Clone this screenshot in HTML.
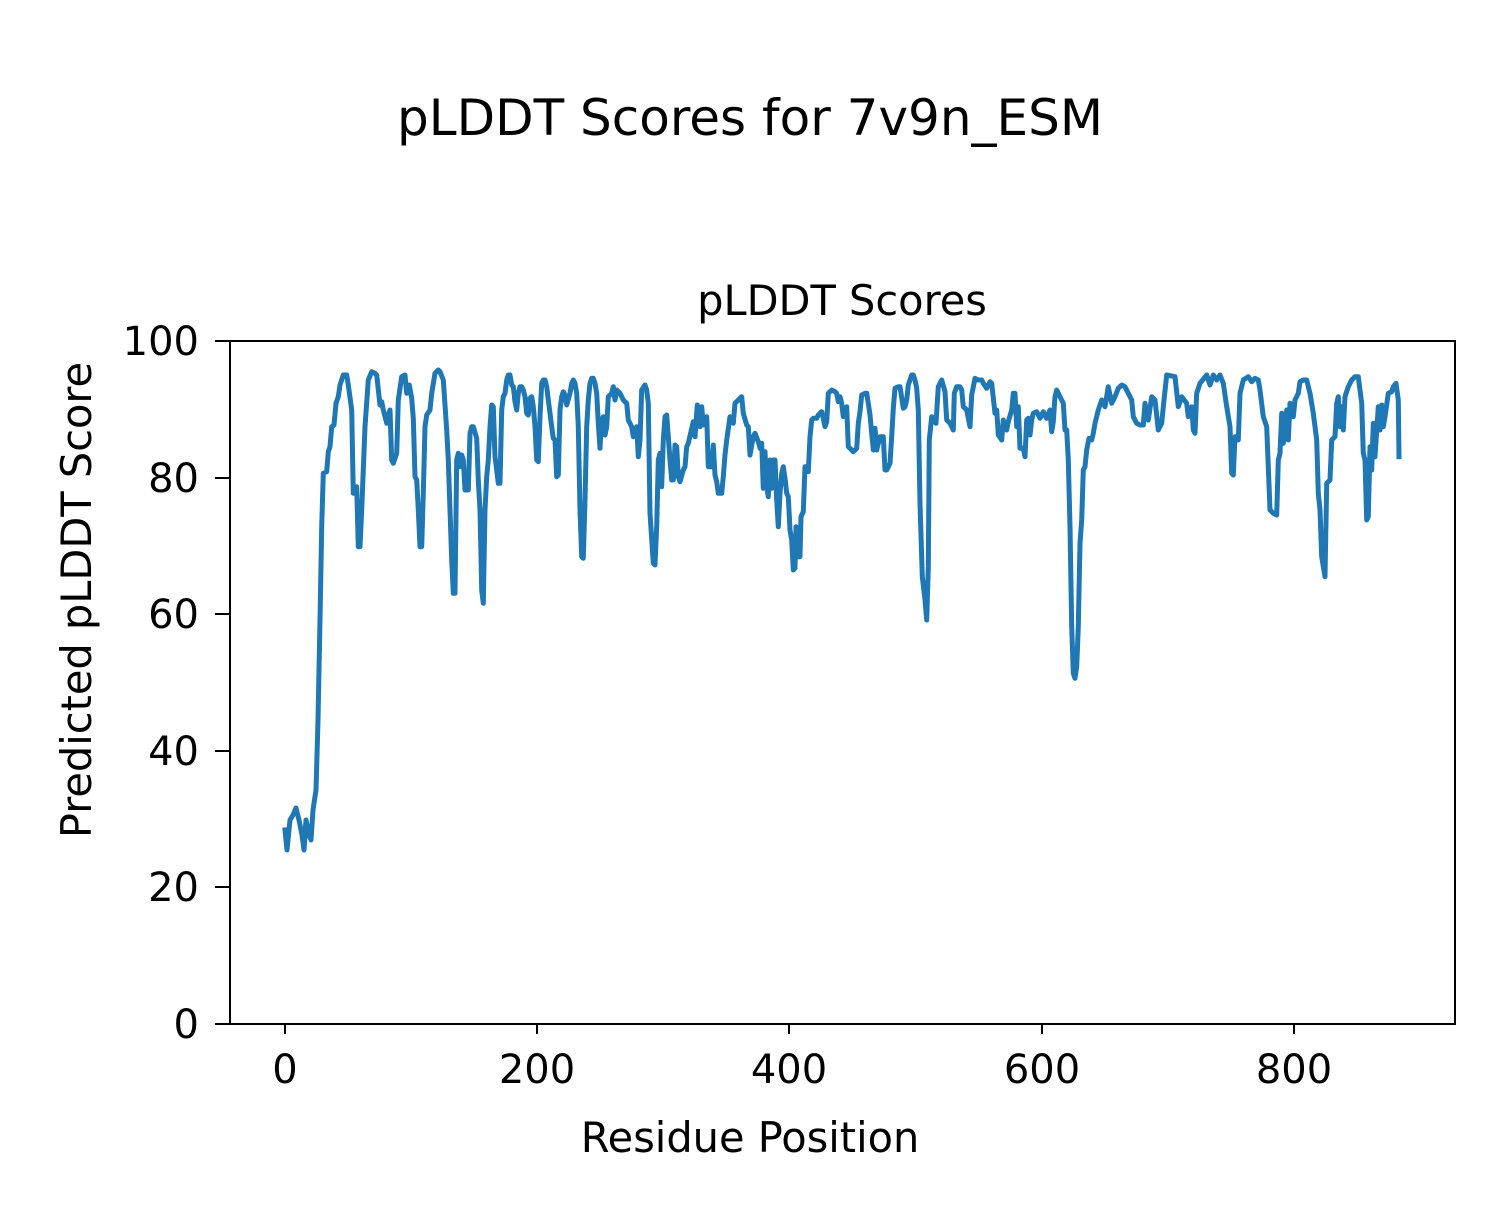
<!DOCTYPE html>
<html><head><meta charset="utf-8"><style>
html,body{margin:0;padding:0;background:#fff;}
svg text{font-family:"DejaVu Sans","Liberation Sans",sans-serif;fill:#000;}
</style></head><body>
<svg id="s" width="1500" height="1200" viewBox="0 0 1500 1200" xmlns="http://www.w3.org/2000/svg">
<rect width="1500" height="1200" fill="#fff"/>
<text x="750" y="135" font-size="50" text-anchor="middle">pLDDT Scores for 7v9n_ESM</text>
<text x="842" y="315" font-size="41.5" text-anchor="middle">pLDDT Scores</text>
<polyline id="ln" fill="none" stroke="#1f77b4" stroke-width="5" stroke-linejoin="round" stroke-linecap="square" points=""/>
<rect x="230" y="341" width="1225" height="683" fill="none" stroke="#000" stroke-width="2"/>
<g stroke="#000" stroke-width="2">
<line x1="285" y1="1024" x2="285" y2="1034"/><line x1="537" y1="1024" x2="537" y2="1034"/><line x1="789" y1="1024" x2="789" y2="1034"/><line x1="1042" y1="1024" x2="1042" y2="1034"/><line x1="1294" y1="1024" x2="1294" y2="1034"/>
<line x1="215" y1="1024" x2="230" y2="1024"/><line x1="215" y1="887" x2="230" y2="887"/><line x1="215" y1="751" x2="230" y2="751"/><line x1="215" y1="614" x2="230" y2="614"/><line x1="215" y1="478" x2="230" y2="478"/><line x1="215" y1="341" x2="230" y2="341"/>
</g>
<g font-size="40" text-anchor="middle">
<text x="285" y="1083">0</text><text x="537" y="1083">200</text><text x="789" y="1083">400</text><text x="1042" y="1083">600</text><text x="1294" y="1083">800</text>
</g>
<g font-size="40" text-anchor="end">
<text x="199" y="1038">0</text><text x="199" y="901">20</text><text x="199" y="765">40</text><text x="199" y="628">60</text><text x="199" y="492">80</text><text x="199" y="355">100</text>
</g>
<text x="750" y="1152" font-size="41.5" text-anchor="middle">Residue Position</text>
<text transform="translate(91,600) rotate(-90)" font-size="41.5" text-anchor="middle">Predicted pLDDT Score</text>
</svg>
<script>
var pre=[[285,830],[287,850],[290,820],[293,815],[296,808],[299,820],[302,835],[304,850],[306,820],[309,835],[311,840],[313,810],[316,790],[318,720]];
var z1=[[120,780],[125,500],[130,340],[140,335],[145,275],[150,260],[155,200],[162,195],[168,130],[175,110],[180,75],[190,45],[200,45],[205,75],[215,150],[220,400],[230,380],[235,560],[240,560],[245,450],[255,200],[265,60],[275,35],[285,40],[290,45],[300,135],[305,125],[310,150],[320,190],[325,165],[330,150],[335,300],[340,310],[350,280],[355,120],[365,50],[375,45],[380,100],[388,75],[395,115],[400,175],[405,350],[410,360],[415,450],[420,560],[425,560],[430,400],[435,200],[440,165],[450,150],[455,100],[465,40],[475,30],[480,35],[490,60],[500,210],[505,300],[515,600],[520,700],[525,700],[530,300],[535,280],[540,320],[545,285],[550,300],[555,390],[565,390],[570,220],[575,200],[580,200],[590,235],[595,360],[600,450],[605,690],[610,730],[615,450],[620,350],[625,300],[630,200],[635,135],[640,140],[645,290],[650,330],[655,370],[660,370],[665,150],[670,110],[675,100],[680,60],[685,45],[690,45],[695,75],[700,80],[705,125],[710,150],[715,100],[720,80],[725,80],[730,90],[735,110],[740,160],[745,165],[750,115],[755,110],[760,140],[765,200],[770,300],[775,305],[780,170],[785,70],[790,60],[795,60],[800,80],[805,120],[815,200],[820,235],[825,240],[830,350],[835,345],[840,150],[845,110],[850,95],[855,105],[860,135],[870,100],[875,70],[880,60],[885,70],[890,100],[895,200],[900,450],[905,590],[910,595],[915,420],[920,200],[925,120],[930,70],[935,55],[940,55],[945,70],[950,100],[955,190],[960,265],[965,180],[970,170],[975,225],[980,200],[985,110],[995,100],[1000,80],[1005,120],[1010,90],[1020,100],[1030,120],[1040,130],[1045,180],[1055,200],[1060,230],[1070,200],[1075,290],[1080,240],[1085,90],[1095,75],[1100,90],[1105,130],[1110,460],[1120,610],[1125,615],[1130,500],[1135,300],[1140,280],[1145,380],[1150,240],[1155,170],[1160,165],[1165,230],[1170,300],[1175,360],[1180,360],[1185,255],[1190,260],[1195,350],[1200,365],[1210,330],[1215,320],[1220,260],[1225,250]];
var z2=[[10,185],[15,230],[22,135],[30,200],[35,140],[40,195],[50,170],[55,320],[65,320],[70,255],[75,345],[80,365],[85,400],[95,400],[100,350],[105,285],[110,240],[120,170],[130,190],[135,130],[145,120],[155,110],[160,160],[170,195],[175,200],[180,285],[190,230],[195,220],[205,245],[210,265],[215,250],[220,385],[225,275],[230,380],[235,410],[240,300],[245,385],[250,300],[255,300],[260,420],[265,500],[270,400],[275,340],[280,320],[285,355],[290,400],[295,410],[300,510],[305,540],[310,630],[315,625],[318,500],[325,590],[330,590],[333,470],[340,455],[345,320],[350,320],[355,335],[360,230],[365,180],[370,175],[380,175],[385,165],[395,155],[400,175],[405,200],[410,185],[415,100],[425,90],[435,95],[440,100],[445,125],[450,110],[455,130],[460,170],[470,140],[475,260],[480,265],[490,275],[500,265],[505,190],[510,155],[515,105],[525,100],[530,100],[535,130],[540,165],[545,220],[550,270],[555,205],[560,270],[570,230],[580,230],[585,330],[590,330],[600,310],[605,230],[610,145],[615,85],[625,80],[630,80],[640,145],[645,140],[650,120],[655,75],[665,45],[670,45],[675,60],[680,85],[685,150],[690,430],[697,650],[705,720],[710,780],[715,620],[718,240],[725,170],[732,175],[738,190],[745,80],[755,60],[765,95],[770,180],[780,190],[790,210],[793,100],[800,80],[810,80],[815,90],[820,140],[830,150],[840,200],[845,105],[855,55],[865,60],[875,60],[880,70],[890,85],[900,65],[905,70],[915,160],[920,150],[925,225],[935,240],[940,180],[950,210],[955,185],[965,150],[970,100],[975,100],[980,200],[985,140],[990,265],[1000,265],[1005,290],[1010,180],[1015,175],[1020,225],[1025,180],[1030,160],[1040,155],[1050,175],[1060,155],[1070,175],[1080,150],[1085,215],[1090,185],[1095,110],[1100,90],[1110,110],[1120,130],[1125,210],[1130,210],[1135,300],[1140,500],[1145,800],[1150,940],[1155,955],[1160,920],[1165,800],[1170,550],[1175,480],[1180,330],[1185,320],[1190,270],[1197,235]];
var z3=[[95,240],[100,220],[105,190],[115,150],[125,120],[135,140],[145,80],[155,130],[165,110],[175,85],[185,75],[195,80],[205,100],[215,120],[220,170],[230,190],[240,195],[250,195],[255,130],[265,180],[275,110],[285,120],[295,210],[305,190],[312,120],[320,45],[345,50],[355,140],[365,110],[380,130],[385,170],[395,140],[400,210],[405,220],[410,100],[420,70],[440,45],[450,75],[460,45],[470,60],[480,45],[490,70],[500,140],[510,200],[515,340],[520,345],[525,230],[535,240],[540,100],[550,60],[565,50],[575,65],[585,55],[595,60],[600,90],[610,170],[620,200],[630,450],[640,460],[650,465],[655,300],[660,280],[665,160],[670,250],[680,150],[685,240],[690,130],[700,170],[705,120],[715,100],[720,65],[730,60],[740,60],[750,100],[760,160],[770,240],[775,400],[780,450],[785,590],[795,650],[800,370],[810,360],[815,240],[825,230],[830,130],[835,110],[840,200],[845,140],[850,210],[855,110],[865,80],[875,60],[885,50],[895,50],[905,130],[910,280],[915,300],[920,480],[925,470],[930,260],[935,330],[940,190],[945,290],[955,140],[960,210],[965,135],[970,200],[975,170],[985,100],[995,95],[1000,80],[1008,70],[1015,120],[1017,290]];
var pts=pre.map(function(p){return p[0]+","+p[1];});
function add(a,ox,oy){a.forEach(function(p){pts.push((ox+p[0]/3).toFixed(1)+","+(oy+p[1]/3).toFixed(1));});}
add(z1,280,360);add(z2,690,360);add(z3,1060,360);
document.getElementById("ln").setAttribute("points",pts.join(" "));
</script>
</body></html>
